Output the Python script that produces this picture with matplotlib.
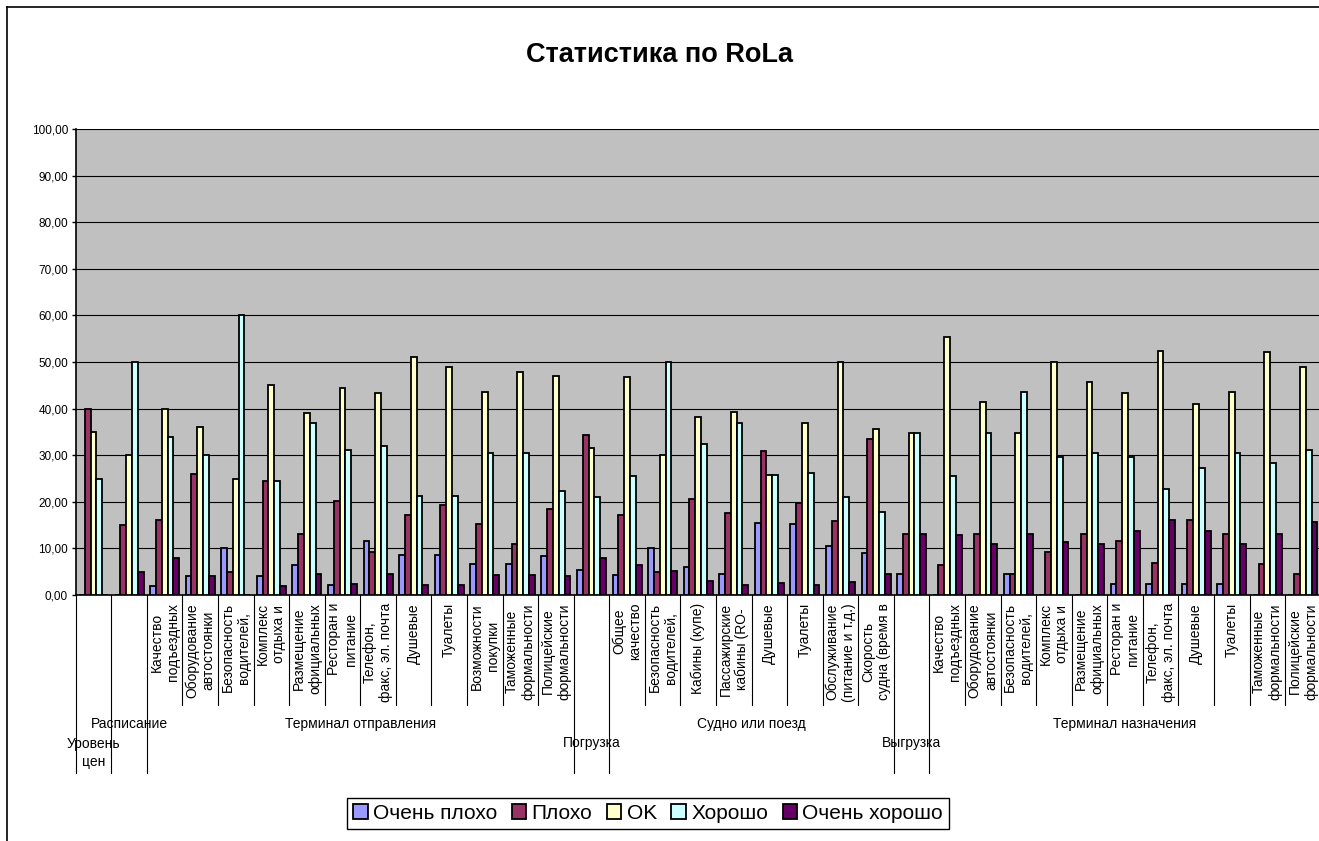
import matplotlib.pyplot as plt
import numpy as np
from matplotlib.lines import Line2D
from matplotlib.ticker import FuncFormatter

plt.rcParams['font.family'] = ['Liberation Sans', 'DejaVu Sans']

W, H = 1319, 841

groups = ["Уровень\nцен", "Расписание", "Терминал отправления", "Погрузка",
          "Судно или поезд", "Выгрузка", "Терминал назначения"]
group_sizes = [1, 1, 12, 1, 8, 1, 11]
subcats = ["", "",
           "Качество\nподъездных", "Оборудование\nавтостоянки", "Безопасность\nводителей,",
           "Комплекс\nотдыха и", "Размещение\nофициальных", "Ресторан и\nпитание",
           "Телефон,\nфакс, эл. почта", "Душевые", "Туалеты", "Возможности\nпокупки",
           "Таможенные\nформальности", "Полицейские\nформальности",
           "",
           "Общее\nкачество", "Безопасность\nводителей,", "Кабины (купе)",
           "Пассажирские\nкабины (RO-", "Душевые", "Туалеты",
           "Обслуживание\n(питание и т.д.)", "Скорость\nсудна (время в",
           "",
           "Качество\nподъездных", "Оборудование\nавтостоянки", "Безопасность\nводителей,",
           "Комплекс\nотдыха и", "Размещение\nофициальных", "Ресторан и\nпитание",
           "Телефон,\nфакс, эл. почта", "Душевые", "Туалеты",
           "Таможенные\nформальности", "Полицейские\nформальности"]

series = ["Очень плохо", "Плохо", "OK", "Хорошо", "Очень хорошо"]
very_bad = [0, 0, 2, 4, 10, 4, 6.5, 2.1, 11.6, 8.6, 8.6, 6.6, 6.6, 8.3,
            5.4, 4.3, 10.1, 6.0, 4.4, 15.4, 15.3, 10.6, 9.0, 4.4,
            0, 0, 4.4, 0, 0, 2.3, 2.3, 2.3, 2.3, 0, 0]
bad = [40, 15, 16, 26, 5, 24.5, 13, 20.1, 9.3, 17.1, 19.3, 15.3, 11.0, 18.4,
       34.3, 17.1, 5.0, 20.6, 17.6, 30.9, 19.7, 15.9, 33.4, 13.1,
       6.4, 13.1, 4.4, 9.3, 13.1, 11.6, 6.9, 16.0, 13.1, 6.6, 4.6]
ok = [35, 30, 40, 36, 25, 45, 39, 44.4, 43.3, 51.1, 49.0, 43.6, 47.9, 47.0,
      31.6, 46.7, 30.0, 38.3, 39.3, 25.7, 37.0, 50.0, 35.6, 34.7,
      55.4, 41.4, 34.7, 50.0, 45.7, 43.3, 52.3, 40.9, 43.6, 52.1, 48.9]
good = [25, 50, 34, 30, 60, 24.5, 37, 31.1, 31.9, 21.3, 21.3, 30.4, 30.4, 22.4,
        21.1, 25.6, 50.0, 32.4, 37.0, 25.7, 26.1, 21.1, 17.9, 34.7,
        25.6, 34.7, 43.6, 29.6, 30.4, 29.6, 22.7, 27.3, 30.4, 28.3, 31.1]
very_good = [0, 5, 8, 4, 0, 2, 4.4, 2.3, 4.6, 2.1, 2.1, 4.3, 4.3, 4.1,
             8.0, 6.4, 5.1, 3.0, 2.1, 2.6, 2.1, 2.7, 4.6, 13.1,
             12.9, 11.0, 13.1, 11.4, 10.9, 13.7, 16.0, 13.7, 11.0, 13.1, 15.7]

colors = ["#9999FF", "#993366", "#FFFFCC", "#CCFFFF", "#660066"]
# pixel rows of the group labels (layout only)
group_label_py = [753, 724, 724, 743, 724, 743, 724]

fig = plt.figure(figsize=(W / 100, H / 100), dpi=100)
ax_left, ax_bottom_px, ax_top_px = 75.7, 595, 129
cat_w = 35.57
n = len(subcats)
ax = fig.add_axes([ax_left / W, 1 - ax_bottom_px / H, n * cat_w / W,
                   (ax_bottom_px - ax_top_px) / H])


def ay(py):
    # pixel row -> axes fraction
    return (ax_bottom_px - py) / (ax_bottom_px - ax_top_px)


ax.set_facecolor("#C0C0C0")
x = np.arange(n)
bw = 0.163
for k, (vals, name) in enumerate(zip([very_bad, bad, ok, good, very_good], series)):
    ax.bar(x + (k - 2) * bw, vals, width=bw, color=colors[k], edgecolor="black",
           linewidth=1.3, label=name, zorder=3)

ax.set_xlim(-0.5, n - 0.5)
ax.set_ylim(0, 100)
ax.set_yticks(np.arange(0, 101, 10))
ax.yaxis.set_major_formatter(FuncFormatter(lambda v, p: f"{v:.2f}".replace(".", ",")))
ax.tick_params(axis="y", labelsize=8.5, length=3, width=1, pad=2.5, direction="out")
ax.set_xticks([])
ax.grid(axis="y", color="black", linewidth=0.8, zorder=0)
ax.set_axisbelow(True)
for s in ["top", "right"]:
    ax.spines[s].set_visible(False)
ax.spines["left"].set_linewidth(1.2)
ax.spines["bottom"].set_linewidth(1.2)

trans = ax.get_xaxis_transform()

# category separators below the axis
starts = np.cumsum([0] + group_sizes[:-1])
group_edges = set(int(s) for s in starts)
for i in range(n):
    bottom = ay(773) if i in group_edges else ay(705)
    ax.plot([i - 0.5, i - 0.5], [0, bottom], color="black", linewidth=0.8,
            transform=trans, clip_on=False)

# sub-category labels
for i, lab in enumerate(subcats):
    if lab:
        ax.text(i, ay(603), lab, rotation=90, ha="center", va="top",
                multialignment="center", fontsize=10, transform=trans)

# group labels
for g, size, s, py in zip(groups, group_sizes, starts, group_label_py):
    ax.text(s + (size - 1) / 2, ay(py), g, ha="center", va="center",
            multialignment="center", linespacing=1.4, fontsize=10, transform=trans)

fig.text(0.5, 1 - 55 / H, "Статистика по RoLa", ha="center", va="center",
         fontsize=19.5, fontweight="bold")

leg = fig.legend(loc="center", bbox_to_anchor=(648 / W, 1 - 813.5 / H), ncol=5,
                 fontsize=15, frameon=True, fancybox=False, edgecolor="black",
                 framealpha=1, handlelength=0.7, handleheight=0.7,
                 handletextpad=0.25, columnspacing=0.7, borderpad=0.3,
                 borderaxespad=0)
leg.get_frame().set_linewidth(1.0)

# outer chart border
fig.add_artist(Line2D([7 / W, 7 / W], [0, 1 - 7 / H], color="black", linewidth=1.2))
fig.add_artist(Line2D([7 / W, 1], [1 - 7 / H, 1 - 7 / H], color="black", linewidth=1.2))

fig.savefig("out.png", dpi=100)
